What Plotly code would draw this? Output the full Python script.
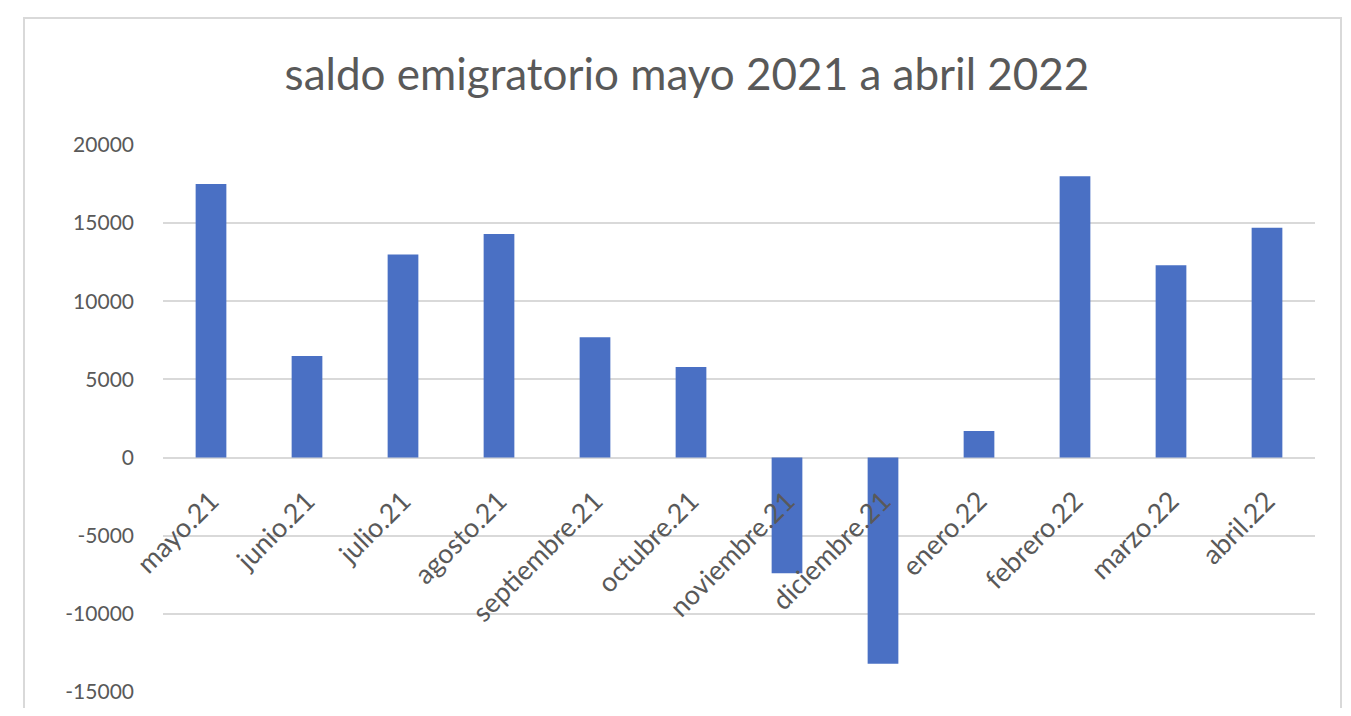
import plotly.graph_objects as go

categories = ["mayo.21", "junio.21", "julio.21", "agosto.21", "septiembre.21", "octubre.21",
              "noviembre.21", "diciembre.21", "enero.22", "febrero.22", "marzo.22", "abril.22"]
saldo = [17500, 6500, 13000, 14300, 7700, 5800, -7400, -13200, 1700, 18000, 12300, 14700]
y_ticks = [-15000, -10000, -5000, 0, 5000, 10000, 15000, 20000]
y_tick_text = ["-15000", "-10000", "-5000", "0", "5000", "10000", "15000", "20000"]
title_text = "saldo emigratorio mayo 2021 a abril 2022"

OFF = 8  # page body margin
W, H = 1351 - 2 * OFF, 716 - 2 * OFF
# desired screen positions of the plot area
S_L, S_R, S_T, S_B = 163, 1315, 145, 692
L = S_L - OFF
R = W - (S_R - OFF)
T = S_T - OFF
B = H - (S_B - OFF)
pw, ph = W - L - R, H - T - B
ymin, ymax = -15000, 20000


def px_x(sx):
    return (sx - OFF - L) / pw


def px_y(sy):
    return (H - B - (sy - OFF)) / ph


fig = go.Figure(go.Bar(x=categories, y=saldo, marker=dict(color="#4a70c4", line=dict(width=0)),
                       width=0.32))

fig.update_layout(
    width=W, height=H,
    margin=dict(l=L, r=R, t=T, b=B, autoexpand=False),
    paper_bgcolor="white", plot_bgcolor="white",
    font=dict(family="Lato, 'Open Sans', sans-serif", color="#595959", size=20),
    title=dict(text=title_text, x=px_x(687), xref="paper", xanchor="center",
               y=1 - (75 - OFF) / H, yanchor="middle",
               font=dict(size=44, color="#595959")),
    showlegend=False,
    xaxis=dict(anchor="free", position=(0 - ymin) / (ymax - ymin), tickangle=-45,
               ticks="outside", ticklen=16, tickcolor="rgba(0,0,0,0)", automargin=False,
               showgrid=False, showline=False, zeroline=False,
               tickfont=dict(size=27, color="#595959")),
    yaxis=dict(range=[ymin, ymax], tickvals=y_ticks, ticktext=y_tick_text, automargin=False,
               showgrid=True, gridcolor="#d9d9d9",
               gridwidth=2, zeroline=False, showline=False, ticks="", ticklabelstandoff=28,
               tickfont=dict(size=21, color="#595959")),
    shapes=[dict(type="rect", xref="paper", yref="paper",
                 x0=px_x(24), x1=px_x(1341), y0=px_y(760), y1=px_y(18),
                 line=dict(color="#d9d9d9", width=2), fillcolor="rgba(0,0,0,0)", layer="below")],
)

fig.write_html("out.html")
